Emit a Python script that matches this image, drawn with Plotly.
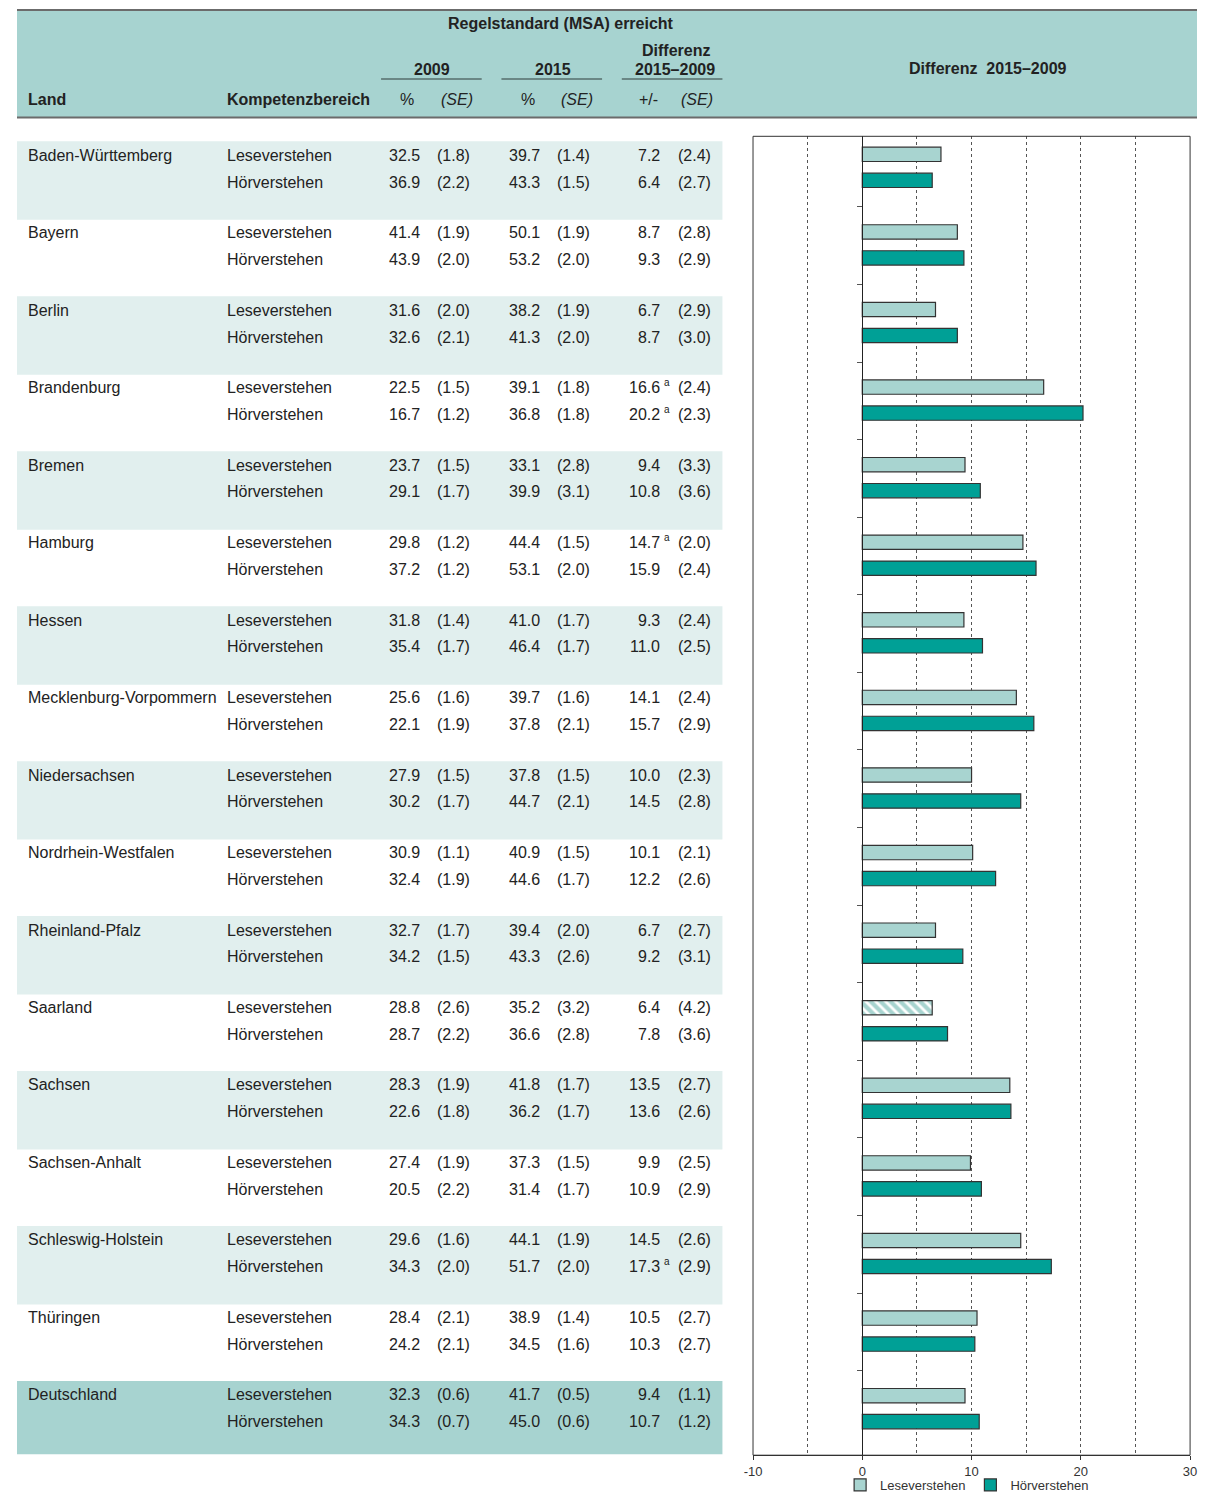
import plotly.graph_objects as go

# The page body keeps its default 8px margin, so the figure is sized to fit the
# 1212x1508 window exactly; all layout positions below are window pixels.
WIN_W, WIN_H, BODY_M = 1212, 1508, 8
W, H = WIN_W - 2 * BODY_M, WIN_H - 2 * BODY_M
FONT = "Liberation Sans, Arial, Helvetica, sans-serif"

# ---------------- data ----------------
lands = ["Baden-Württemberg", "Bayern", "Berlin", "Brandenburg", "Bremen", "Hamburg",
         "Hessen", "Mecklenburg-Vorpommern", "Niedersachsen", "Nordrhein-Westfalen",
         "Rheinland-Pfalz", "Saarland", "Sachsen", "Sachsen-Anhalt", "Schleswig-Holstein",
         "Thüringen", "Deutschland"]
kompetenz = ["Leseverstehen", "Hörverstehen"]

lese_p2009 = [32.5, 41.4, 31.6, 22.5, 23.7, 29.8, 31.8, 25.6, 27.9, 30.9, 32.7, 28.8, 28.3, 27.4, 29.6, 28.4, 32.3]
lese_se2009 = [1.8, 1.9, 2.0, 1.5, 1.5, 1.2, 1.4, 1.6, 1.5, 1.1, 1.7, 2.6, 1.9, 1.9, 1.6, 2.1, 0.6]
lese_p2015 = [39.7, 50.1, 38.2, 39.1, 33.1, 44.4, 41.0, 39.7, 37.8, 40.9, 39.4, 35.2, 41.8, 37.3, 44.1, 38.9, 41.7]
lese_se2015 = [1.4, 1.9, 1.9, 1.8, 2.8, 1.5, 1.7, 1.6, 1.5, 1.5, 2.0, 3.2, 1.7, 1.5, 1.9, 1.4, 0.5]
lese_diff = [7.2, 8.7, 6.7, 16.6, 9.4, 14.7, 9.3, 14.1, 10.0, 10.1, 6.7, 6.4, 13.5, 9.9, 14.5, 10.5, 9.4]
lese_sediff = [2.4, 2.8, 2.9, 2.4, 3.3, 2.0, 2.4, 2.4, 2.3, 2.1, 2.7, 4.2, 2.7, 2.5, 2.6, 2.7, 1.1]
lese_sup = ["", "", "", "a", "", "a", "", "", "", "", "", "", "", "", "", "", ""]
lese_significant = [True, True, True, True, True, True, True, True, True, True, True, False,
                    True, True, True, True, True]

hoer_p2009 = [36.9, 43.9, 32.6, 16.7, 29.1, 37.2, 35.4, 22.1, 30.2, 32.4, 34.2, 28.7, 22.6, 20.5, 34.3, 24.2, 34.3]
hoer_se2009 = [2.2, 2.0, 2.1, 1.2, 1.7, 1.2, 1.7, 1.9, 1.7, 1.9, 1.5, 2.2, 1.8, 2.2, 2.0, 2.1, 0.7]
hoer_p2015 = [43.3, 53.2, 41.3, 36.8, 39.9, 53.1, 46.4, 37.8, 44.7, 44.6, 43.3, 36.6, 36.2, 31.4, 51.7, 34.5, 45.0]
hoer_se2015 = [1.5, 2.0, 2.0, 1.8, 3.1, 2.0, 1.7, 2.1, 2.1, 1.7, 2.6, 2.8, 1.7, 1.7, 2.0, 1.6, 0.6]
hoer_diff = [6.4, 9.3, 8.7, 20.2, 10.8, 15.9, 11.0, 15.7, 14.5, 12.2, 9.2, 7.8, 13.6, 10.9, 17.3, 10.3, 10.7]
hoer_sediff = [2.7, 2.9, 3.0, 2.3, 3.6, 2.4, 2.5, 2.9, 2.8, 2.6, 3.1, 3.6, 2.6, 2.9, 2.9, 2.7, 1.2]
hoer_sup = ["", "", "", "a", "", "", "", "", "", "", "", "", "", "", "a", "", ""]
hoer_significant = [True] * 17

x_ticks = [-10, 0, 10, 20, 30]
x_ticklabels = ["-10", "0", "10", "20", "30"]

# ---------------- styling ----------------
HEAD_C = "#a7d3d0"
BAND_C = "#e1efee"
LESE_C = "#a8d4d0"
HOER_C = "#00a096"
TXT = "#222222"


def fx(x):
    return (x - BODY_M) / W


def fy(y):
    return 1 - (y - BODY_M) / H


fig = go.Figure()
n = len(lands)
pos = list(range(n))

fig.add_trace(go.Bar(
    y=pos, x=lese_diff, orientation="h", name="Leseverstehen",
    width=0.185, offset=-0.27, hoverinfo="skip",
    marker=dict(color=LESE_C, line=dict(color="#333333", width=1.2),
                pattern=dict(shape=["" if s else "\\" for s in lese_significant],
                             fgcolor="#ffffff", bgcolor=LESE_C, size=7, solidity=0.4,
                             fillmode="replace")),
))
fig.add_trace(go.Bar(
    y=pos, x=hoer_diff, orientation="h", name="Hörverstehen",
    width=0.185, offset=0.065, hoverinfo="skip",
    marker=dict(color=HOER_C, line=dict(color="#333333", width=1.2),
                pattern=dict(shape=["" if s else "\\" for s in hoer_significant],
                             fgcolor="#ffffff", bgcolor=HOER_C, size=7, solidity=0.4,
                             fillmode="replace")),
))

PL, PR, PT, PB = 754, 1197, 137, 1463
XR = [x_ticks[0], x_ticks[-1]]
xdom = [fx(PL), fx(PR)]
zero_pos = xdom[0] + (0 - XR[0]) / (XR[1] - XR[0]) * (xdom[1] - xdom[0])

fig.update_layout(
    width=W, height=H, margin=dict(l=0, r=0, t=0, b=0),
    paper_bgcolor="white", plot_bgcolor="white",
    barmode="overlay", showlegend=True,
    font=dict(family=FONT, color=TXT, size=16),
    xaxis=dict(domain=xdom, range=XR, tickvals=x_ticks, ticktext=x_ticklabels,
               ticks="outside", ticklen=4, ticklabeloverflow="allow",
               tickcolor="#333333", showline=True, linecolor="#333333", linewidth=1,
               showgrid=True, gridcolor="#555555", griddash="dot", gridwidth=1,
               minor=dict(dtick=5, tick0=0, showgrid=True, gridcolor="#555555",
                          griddash="dot", gridwidth=1),
               zeroline=False, tickfont=dict(size=13, color="#333333"), fixedrange=True),
    yaxis=dict(domain=[fy(PB), fy(PT)], range=[16.59, -0.41], anchor="free",
               position=zero_pos, showline=True, linecolor="#222222", linewidth=1.3,
               tickvals=[i + 0.5 for i in range(n - 1)], ticks="outside", ticklen=5,
               tickcolor="#555555", showticklabels=False, showgrid=False,
               zeroline=False, fixedrange=True),
    legend=dict(orientation="h", x=fx(971), xanchor="center", y=fy(1493),
                yanchor="middle", font=dict(size=13, color="#333333", family=FONT),
                bgcolor="rgba(0,0,0,0)", traceorder="normal", itemwidth=30),
)

shapes = []
shapes.append(dict(type="rect", xref="x domain", yref="y domain", x0=0, x1=1, y0=0, y1=1,
                   line=dict(color="#333333", width=1), fillcolor="rgba(0,0,0,0)",
                   layer="above"))
shapes.append(dict(type="rect", xref="paper", yref="paper", x0=fx(8), x1=1,
                   y0=fy(10), y1=fy(118), fillcolor=HEAD_C, line=dict(width=0),
                   layer="below"))
for yy in (10, 118):
    shapes.append(dict(type="line", xref="paper", yref="paper", x0=fx(8), x1=1,
                       y0=fy(yy), y1=fy(yy), line=dict(color="#6b6b6b", width=2)))
for a, b in ((377, 479), (499, 601), (621, 723)):
    shapes.append(dict(type="line", xref="paper", yref="paper", x0=fx(a), x1=fx(b),
                       y0=fy(79.5), y1=fy(79.5), line=dict(color="#566e6c", width=1.5)))

ROW = 77.9
BAND_TOP = 142
for i in range(n):
    y0 = BAND_TOP + ROW * i
    if i == n - 1:
        shapes.append(dict(type="rect", xref="paper", yref="paper", x0=fx(8), x1=fx(723),
                           y0=fy(y0), y1=fy(1462), fillcolor=HEAD_C, line=dict(width=0),
                           layer="below"))
    elif i % 2 == 0:
        shapes.append(dict(type="rect", xref="paper", yref="paper", x0=fx(8), x1=fx(723),
                           y0=fy(y0), y1=fy(y0 + ROW + 1), fillcolor=BAND_C,
                           line=dict(width=0), layer="below"))

anns = []


def ann(text, x, y, anchor="left", size=16, color=TXT):
    anns.append(dict(text=text, x=fx(x), y=fy(y), xref="paper", yref="paper",
                     xanchor=anchor, yanchor="middle", showarrow=False,
                     font=dict(size=size, color=color, family=FONT), borderpad=0))


ann("<b>Regelstandard (MSA) erreicht</b>", 559.5, 24, "center")
ann("<b>Differenz</b>", 675.5, 51, "center")
ann("<b>2009</b>", 429, 70, "center")
ann("<b>2015</b>", 551, 70, "center")
ann("<b>2015–2009</b>", 675, 70, "center")
ann("<b>Land</b>", 18, 100)
ann("<b>Kompetenzbereich</b>", 220, 100)
ann("%", 403.5, 100, "center")
ann("<i>(SE)</i>", 453.5, 100, "center")
ann("%", 525.5, 100, "center")
ann("<i>(SE)</i>", 575.5, 100, "center")
ann("+/-", 648.5, 100, "center")
ann("<i>(SE)</i>", 697, 100, "center")
ann("<b>Differenz  2015–2009</b>", 992, 69, "center")

ROW_Y = (156, 183)
for i, land in enumerate(lands):
    base = ROW * i
    ann(land, 18, ROW_Y[0] + base)
    rows = [
        (lese_p2009, lese_se2009, lese_p2015, lese_se2015, lese_diff, lese_sediff, lese_sup),
        (hoer_p2009, hoer_se2009, hoer_p2015, hoer_se2015, hoer_diff, hoer_sediff, hoer_sup),
    ]
    for k, (p09, s09, p15, s15, d, sd, sup) in enumerate(rows):
        y = ROW_Y[k] + base
        ann(kompetenz[k], 220, y)
        ann(f"{p09[i]:.1f}", 417, y, "right")
        ann(f"({s09[i]:.1f})", 468, y, "right")
        ann(f"{p15[i]:.1f}", 539, y, "right")
        ann(f"({s15[i]:.1f})", 590, y, "right")
        ann(f"{d[i]:.1f}", 661, y, "right")
        ann(f"({sd[i]:.1f})", 712, y, "right")
        if sup[i]:
            ann(sup[i], 663, y - 5, "left", size=10)

fig.update_layout(shapes=shapes, annotations=anns)
fig.write_html("out.html", config={"displayModeBar": False})
